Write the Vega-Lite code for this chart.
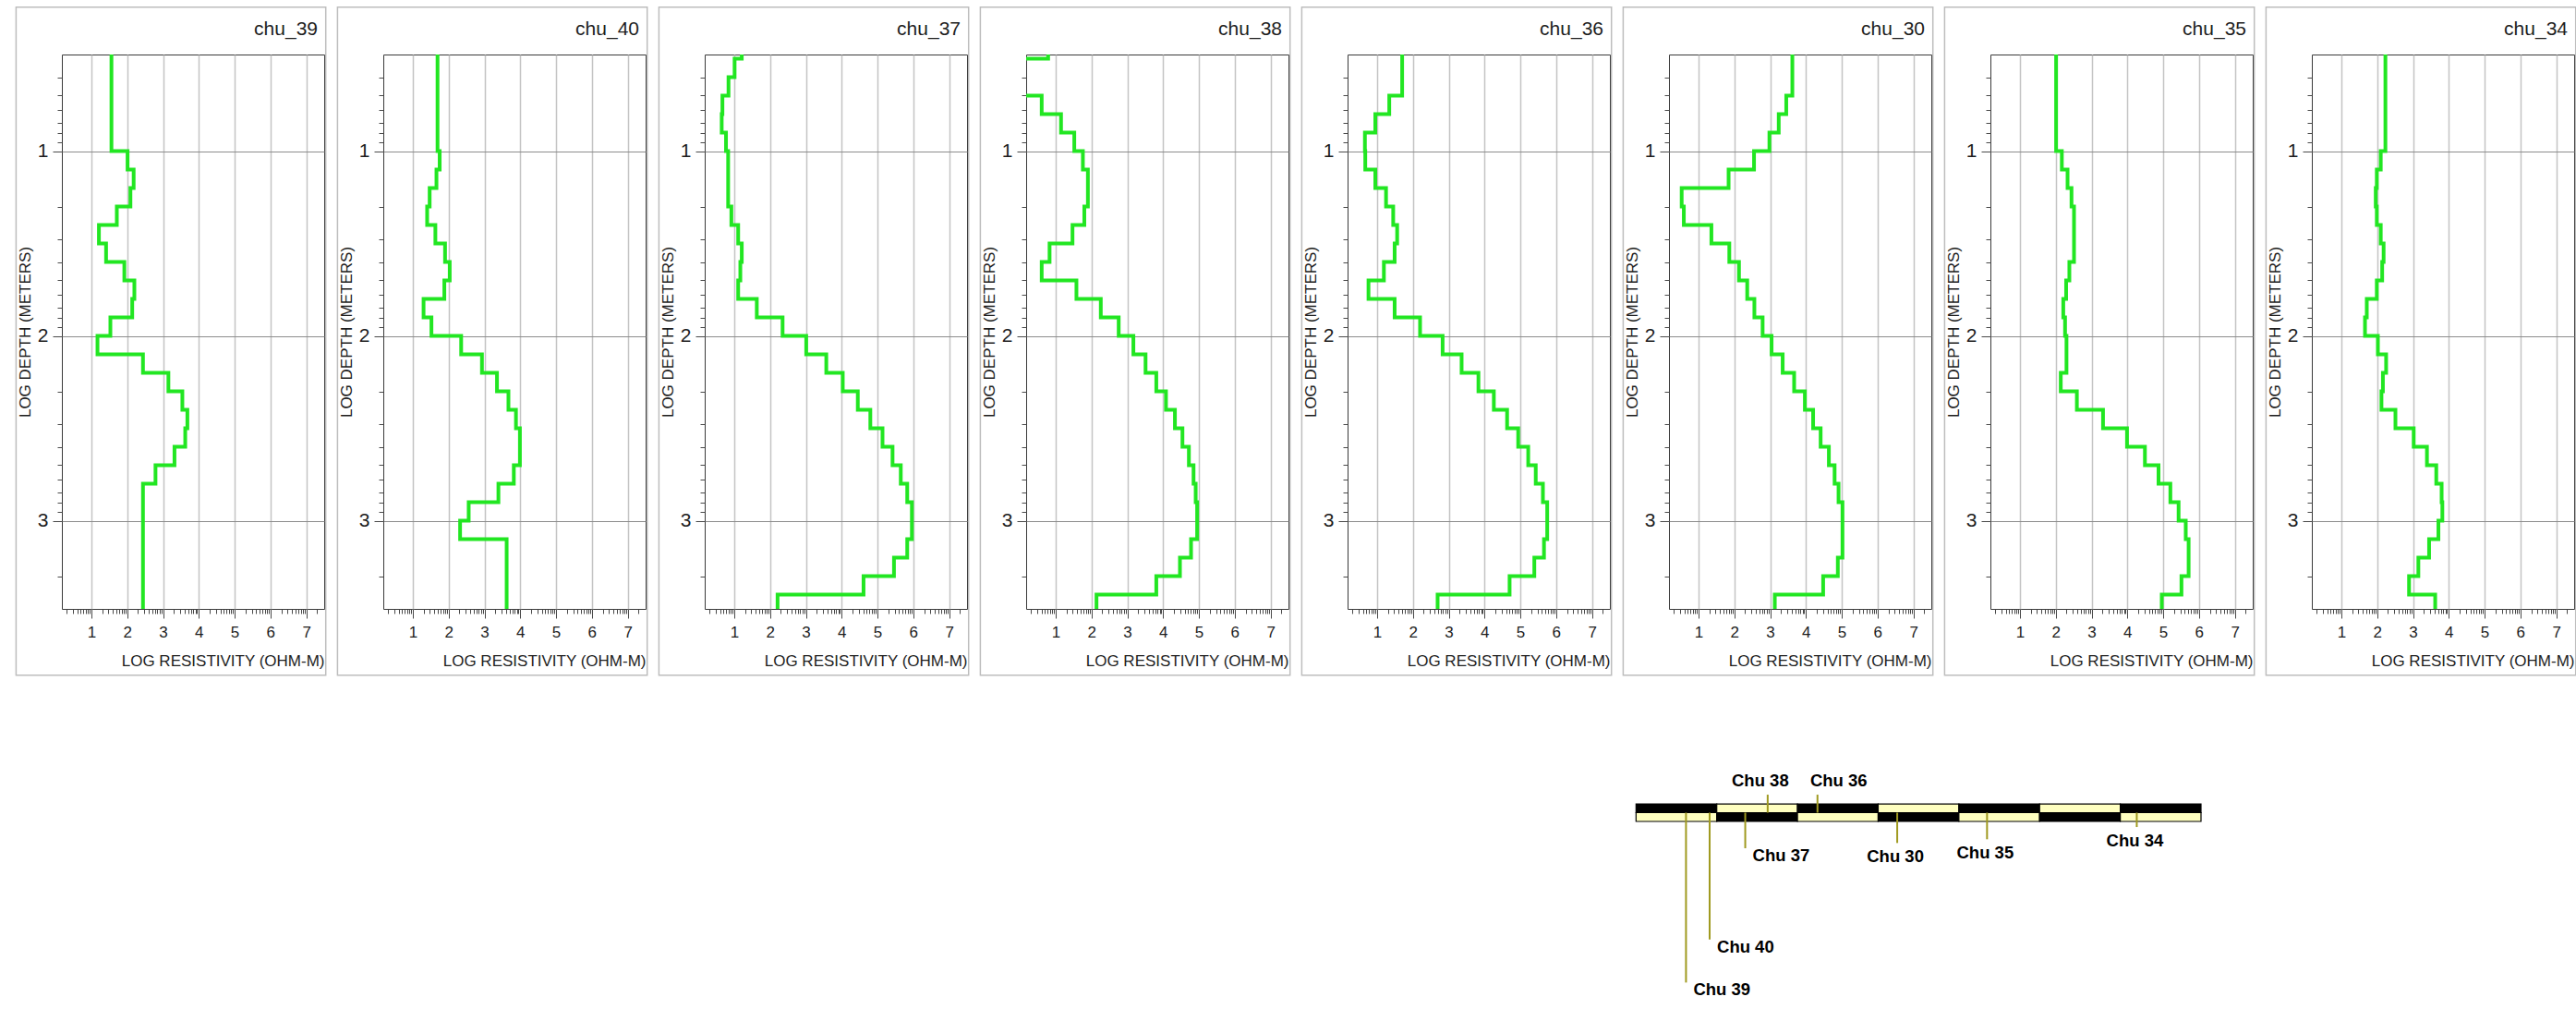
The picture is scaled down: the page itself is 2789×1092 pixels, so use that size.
{
  "$schema": "https://vega.github.io/schema/vega-lite/v6.json",
  "background": "white",
  "padding": {"left": 16, "top": 6, "right": 0, "bottom": 0},
  "datasets": {
    "soundings": [
      {"station":"chu_39","depth":0.477,"res":1.56},{"station":"chu_39","depth":1.0,"res":2.01},{"station":"chu_39","depth":1.1,"res":2.18},{"station":"chu_39","depth":1.2,"res":2.09},{"station":"chu_39","depth":1.3,"res":1.71},{"station":"chu_39","depth":1.4,"res":1.21},{"station":"chu_39","depth":1.5,"res":1.41},{"station":"chu_39","depth":1.6,"res":1.92},{"station":"chu_39","depth":1.7,"res":2.20},{"station":"chu_39","depth":1.8,"res":2.14},{"station":"chu_39","depth":1.9,"res":1.53},{"station":"chu_39","depth":2.0,"res":1.17},{"station":"chu_39","depth":2.1,"res":2.44},{"station":"chu_39","depth":2.2,"res":3.15},{"station":"chu_39","depth":2.3,"res":3.54},{"station":"chu_39","depth":2.4,"res":3.68},{"station":"chu_39","depth":2.5,"res":3.62},{"station":"chu_39","depth":2.6,"res":3.32},{"station":"chu_39","depth":2.7,"res":2.79},{"station":"chu_39","depth":2.8,"res":2.44},{"station":"chu_39","depth":3.477,"res":2.44},

      {"station":"chu_40","depth":0.477,"res":1.69},{"station":"chu_40","depth":1.0,"res":1.75},{"station":"chu_40","depth":1.1,"res":1.66},{"station":"chu_40","depth":1.2,"res":1.47},{"station":"chu_40","depth":1.3,"res":1.40},{"station":"chu_40","depth":1.4,"res":1.63},{"station":"chu_40","depth":1.5,"res":1.90},{"station":"chu_40","depth":1.6,"res":2.03},{"station":"chu_40","depth":1.7,"res":1.88},{"station":"chu_40","depth":1.8,"res":1.30},{"station":"chu_40","depth":1.9,"res":1.52},{"station":"chu_40","depth":2.0,"res":2.35},{"station":"chu_40","depth":2.1,"res":2.93},{"station":"chu_40","depth":2.2,"res":3.35},{"station":"chu_40","depth":2.3,"res":3.67},{"station":"chu_40","depth":2.4,"res":3.88},{"station":"chu_40","depth":2.5,"res":3.99},{"station":"chu_40","depth":2.7,"res":3.82},{"station":"chu_40","depth":2.8,"res":3.39},{"station":"chu_40","depth":2.9,"res":2.56},{"station":"chu_40","depth":3.0,"res":2.32},{"station":"chu_40","depth":3.1,"res":3.62},{"station":"chu_40","depth":3.477,"res":3.62},

      {"station":"chu_37","depth":0.477,"res":1.21},{"station":"chu_37","depth":0.5,"res":1.01},{"station":"chu_37","depth":0.6,"res":0.84},{"station":"chu_37","depth":0.7,"res":0.67},{"station":"chu_37","depth":0.8,"res":0.65},{"station":"chu_37","depth":0.9,"res":0.77},{"station":"chu_37","depth":1.0,"res":0.83},{"station":"chu_37","depth":1.3,"res":0.92},{"station":"chu_37","depth":1.4,"res":1.11},{"station":"chu_37","depth":1.5,"res":1.21},{"station":"chu_37","depth":1.6,"res":1.17},{"station":"chu_37","depth":1.7,"res":1.11},{"station":"chu_37","depth":1.8,"res":1.63},{"station":"chu_37","depth":1.9,"res":2.35},{"station":"chu_37","depth":2.0,"res":3.01},{"station":"chu_37","depth":2.1,"res":3.57},{"station":"chu_37","depth":2.2,"res":4.03},{"station":"chu_37","depth":2.3,"res":4.45},{"station":"chu_37","depth":2.4,"res":4.80},{"station":"chu_37","depth":2.5,"res":5.14},{"station":"chu_37","depth":2.6,"res":5.42},{"station":"chu_37","depth":2.7,"res":5.65},{"station":"chu_37","depth":2.8,"res":5.83},{"station":"chu_37","depth":2.9,"res":5.96},{"station":"chu_37","depth":3.1,"res":5.83},{"station":"chu_37","depth":3.2,"res":5.46},{"station":"chu_37","depth":3.3,"res":4.61},{"station":"chu_37","depth":3.4,"res":2.21},{"station":"chu_37","depth":3.477,"res":2.21},

      {"station":"chu_38","depth":0.477,"res":0.79},{"station":"chu_38","depth":0.5,"res":0.1},{"station":"chu_38","depth":0.7,"res":0.61},{"station":"chu_38","depth":0.8,"res":1.15},{"station":"chu_38","depth":0.9,"res":1.52},{"station":"chu_38","depth":1.0,"res":1.76},{"station":"chu_38","depth":1.1,"res":1.90},{"station":"chu_38","depth":1.3,"res":1.80},{"station":"chu_38","depth":1.4,"res":1.47},{"station":"chu_38","depth":1.5,"res":0.83},{"station":"chu_38","depth":1.6,"res":0.61},{"station":"chu_38","depth":1.7,"res":1.58},{"station":"chu_38","depth":1.8,"res":2.26},{"station":"chu_38","depth":1.9,"res":2.76},{"station":"chu_38","depth":2.0,"res":3.17},{"station":"chu_38","depth":2.1,"res":3.51},{"station":"chu_38","depth":2.2,"res":3.81},{"station":"chu_38","depth":2.3,"res":4.08},{"station":"chu_38","depth":2.4,"res":4.33},{"station":"chu_38","depth":2.5,"res":4.54},{"station":"chu_38","depth":2.6,"res":4.72},{"station":"chu_38","depth":2.7,"res":4.85},{"station":"chu_38","depth":2.8,"res":4.91},{"station":"chu_38","depth":2.9,"res":4.95},{"station":"chu_38","depth":3.1,"res":4.78},{"station":"chu_38","depth":3.2,"res":4.47},{"station":"chu_38","depth":3.3,"res":3.81},{"station":"chu_38","depth":3.4,"res":2.14},{"station":"chu_38","depth":3.477,"res":2.14},

      {"station":"chu_36","depth":0.477,"res":1.70},{"station":"chu_36","depth":0.7,"res":1.34},{"station":"chu_36","depth":0.8,"res":0.95},{"station":"chu_36","depth":0.9,"res":0.66},{"station":"chu_36","depth":1.0,"res":0.67},{"station":"chu_36","depth":1.1,"res":0.95},{"station":"chu_36","depth":1.2,"res":1.25},{"station":"chu_36","depth":1.3,"res":1.45},{"station":"chu_36","depth":1.4,"res":1.56},{"station":"chu_36","depth":1.5,"res":1.49},{"station":"chu_36","depth":1.6,"res":1.19},{"station":"chu_36","depth":1.7,"res":0.76},{"station":"chu_36","depth":1.8,"res":1.49},{"station":"chu_36","depth":1.9,"res":2.20},{"station":"chu_36","depth":2.0,"res":2.83},{"station":"chu_36","depth":2.1,"res":3.36},{"station":"chu_36","depth":2.2,"res":3.83},{"station":"chu_36","depth":2.3,"res":4.26},{"station":"chu_36","depth":2.4,"res":4.63},{"station":"chu_36","depth":2.5,"res":4.94},{"station":"chu_36","depth":2.6,"res":5.22},{"station":"chu_36","depth":2.7,"res":5.43},{"station":"chu_36","depth":2.8,"res":5.63},{"station":"chu_36","depth":2.9,"res":5.75},{"station":"chu_36","depth":3.1,"res":5.66},{"station":"chu_36","depth":3.2,"res":5.39},{"station":"chu_36","depth":3.3,"res":4.70},{"station":"chu_36","depth":3.4,"res":2.69},{"station":"chu_36","depth":3.477,"res":2.69},

      {"station":"chu_30","depth":0.477,"res":3.62},{"station":"chu_30","depth":0.7,"res":3.45},{"station":"chu_30","depth":0.8,"res":3.24},{"station":"chu_30","depth":0.9,"res":2.98},{"station":"chu_30","depth":1.0,"res":2.55},{"station":"chu_30","depth":1.1,"res":1.84},{"station":"chu_30","depth":1.2,"res":0.53},{"station":"chu_30","depth":1.3,"res":0.59},{"station":"chu_30","depth":1.4,"res":1.36},{"station":"chu_30","depth":1.5,"res":1.86},{"station":"chu_30","depth":1.6,"res":2.13},{"station":"chu_30","depth":1.7,"res":2.36},{"station":"chu_30","depth":1.8,"res":2.56},{"station":"chu_30","depth":1.9,"res":2.79},{"station":"chu_30","depth":2.0,"res":3.04},{"station":"chu_30","depth":2.1,"res":3.35},{"station":"chu_30","depth":2.2,"res":3.67},{"station":"chu_30","depth":2.3,"res":3.97},{"station":"chu_30","depth":2.4,"res":4.20},{"station":"chu_30","depth":2.5,"res":4.41},{"station":"chu_30","depth":2.6,"res":4.64},{"station":"chu_30","depth":2.7,"res":4.80},{"station":"chu_30","depth":2.8,"res":4.91},{"station":"chu_30","depth":2.9,"res":5.02},{"station":"chu_30","depth":3.2,"res":4.89},{"station":"chu_30","depth":3.3,"res":4.48},{"station":"chu_30","depth":3.4,"res":3.13},{"station":"chu_30","depth":3.477,"res":3.13},

      {"station":"chu_35","depth":0.477,"res":2.01},{"station":"chu_35","depth":1.0,"res":2.17},{"station":"chu_35","depth":1.1,"res":2.33},{"station":"chu_35","depth":1.2,"res":2.44},{"station":"chu_35","depth":1.3,"res":2.51},{"station":"chu_35","depth":1.6,"res":2.38},{"station":"chu_35","depth":1.7,"res":2.29},{"station":"chu_35","depth":1.8,"res":2.21},{"station":"chu_35","depth":1.9,"res":2.26},{"station":"chu_35","depth":2.0,"res":2.30},{"station":"chu_35","depth":2.2,"res":2.14},{"station":"chu_35","depth":2.3,"res":2.59},{"station":"chu_35","depth":2.4,"res":3.32},{"station":"chu_35","depth":2.5,"res":3.99},{"station":"chu_35","depth":2.6,"res":4.49},{"station":"chu_35","depth":2.7,"res":4.87},{"station":"chu_35","depth":2.8,"res":5.20},{"station":"chu_35","depth":2.9,"res":5.43},{"station":"chu_35","depth":3.0,"res":5.63},{"station":"chu_35","depth":3.1,"res":5.71},{"station":"chu_35","depth":3.3,"res":5.51},{"station":"chu_35","depth":3.4,"res":4.96},{"station":"chu_35","depth":3.477,"res":4.96},

      {"station":"chu_34","depth":0.477,"res":2.23},{"station":"chu_34","depth":1.0,"res":2.10},{"station":"chu_34","depth":1.1,"res":1.99},{"station":"chu_34","depth":1.2,"res":1.96},{"station":"chu_34","depth":1.3,"res":1.99},{"station":"chu_34","depth":1.4,"res":2.10},{"station":"chu_34","depth":1.5,"res":2.18},{"station":"chu_34","depth":1.6,"res":2.14},{"station":"chu_34","depth":1.7,"res":1.99},{"station":"chu_34","depth":1.8,"res":1.71},{"station":"chu_34","depth":1.9,"res":1.66},{"station":"chu_34","depth":2.0,"res":2.02},{"station":"chu_34","depth":2.1,"res":2.25},{"station":"chu_34","depth":2.2,"res":2.16},{"station":"chu_34","depth":2.3,"res":2.12},{"station":"chu_34","depth":2.4,"res":2.51},{"station":"chu_34","depth":2.5,"res":3.02},{"station":"chu_34","depth":2.6,"res":3.39},{"station":"chu_34","depth":2.7,"res":3.65},{"station":"chu_34","depth":2.8,"res":3.80},{"station":"chu_34","depth":2.9,"res":3.82},{"station":"chu_34","depth":3.0,"res":3.71},{"station":"chu_34","depth":3.1,"res":3.45},{"station":"chu_34","depth":3.2,"res":3.15},{"station":"chu_34","depth":3.3,"res":2.89},{"station":"chu_34","depth":3.4,"res":3.62},{"station":"chu_34","depth":3.477,"res":3.62}
    ],
    "segments": [
      {"seg":0,"start":0,"end":1},{"seg":1,"start":1,"end":2},{"seg":2,"start":2,"end":3},{"seg":3,"start":3,"end":4},{"seg":4,"start":4,"end":5},{"seg":5,"start":5,"end":6},{"seg":6,"start":6,"end":7}
    ],
    "stations": [
      {"name":"Chu 39","dist":0.619,"offset":2.095},
      {"name":"Chu 40","dist":0.912,"offset":1.564},
      {"name":"Chu 37","dist":1.353,"offset":0.439},
      {"name":"Chu 38","dist":1.631,"offset":-0.222},
      {"name":"Chu 36","dist":2.248,"offset":-0.222},
      {"name":"Chu 30","dist":3.236,"offset":0.374},
      {"name":"Chu 35","dist":4.349,"offset":0.328},
      {"name":"Chu 34","dist":6.204,"offset":0.177}
    ]
  },
  "config": {
    "font": "Liberation Sans",
    "view": {"stroke": "#3a3a3a", "strokeWidth": 1},
    "axis": {"labelColor": "#1e1e1e", "titleColor": "#1e1e1e", "tickColor": "#4a4a4a", "labelFont": "Liberation Sans", "titleFont": "Liberation Sans", "titleFontWeight": "normal"},
    "title": {"font": "Liberation Sans", "fontSize": 21, "fontWeight": "normal", "color": "#1e1e1e", "anchor": "end", "frame": "group", "offset": -35, "dx": -7}
  },
  "spacing": 104,
  "vconcat": [
    {
      "spacing": 10,
      "hconcat": [
        {"width":284,"height":600,"title":{"text":"chu_39"},"resolve":{"axis":{"x":"independent","y":"independent"}},"layer":[
          {"data":{"values":[{}]},"mark":{"type":"rect","filled":false,"stroke":"#bdbdbd","strokeWidth":1.5},"encoding":{
            "x":{"datum":-1.103,"type":"quantitative","scale":{"domain":[0.176,7.5],"nice":false,"zero":false},"axis":{"orient":"bottom","values":[0.301,0.477,0.602,0.699,0.778,0.845,0.903,0.954,1.301,1.477,1.602,1.699,1.778,1.845,1.903,1.954,2.301,2.477,2.602,2.699,2.778,2.845,2.903,2.954,3.301,3.477,3.602,3.699,3.778,3.845,3.903,3.954,4.301,4.477,4.602,4.699,4.778,4.845,4.903,4.954,5.301,5.477,5.602,5.699,5.778,5.845,5.903,5.954,6.301,6.477,6.602,6.699,6.778,6.845,6.903,6.954,7.301],"labels":false,"grid":false,"domain":false,"tickSize":5,"title":null}},
            "x2":{"datum":7.544},
            "y":{"datum":0.2205,"type":"quantitative","scale":{"domain":[0.477,3.477],"nice":false,"zero":false,"reverse":true},"axis":{"orient":"left","values":[0.602,0.699,0.778,0.845,0.903,0.954,1.301,1.477,1.602,1.699,1.778,1.845,1.903,1.954,2.301,2.477,2.602,2.699,2.778,2.845,2.903,2.954,3.301],"labels":false,"grid":false,"domain":false,"tickSize":5,"title":null}},
            "y2":{"datum":3.8355}}},
          {"data":{"name":"soundings"},"transform":[{"filter":"datum.station === 'chu_39'"}],"mark":{"type":"line","interpolate":"step-before","clip":true,"color":"#22e622","strokeWidth":4},"encoding":{
            "x":{"field":"res","type":"quantitative","scale":{"domain":[0.176,7.5],"nice":false,"zero":false},"axis":{"orient":"bottom","values":[1,2,3,4,5,6,7],"format":"d","grid":true,"gridColor":"#c4c4c4","gridWidth":1.5,"domain":false,"tickSize":10,"labelFontSize":17,"labelPadding":7,"title":"LOG RESISTIVITY (OHM-M)","titleAnchor":"end","titleFontSize":17,"titlePadding":15}},
            "y":{"field":"depth","type":"quantitative","scale":{"domain":[0.477,3.477],"nice":false,"zero":false,"reverse":true},"axis":{"orient":"left","values":[1,2,3],"format":"d","grid":true,"gridColor":"#8c8c8c","gridWidth":1,"domain":false,"tickSize":10,"labelFontSize":21,"labelPadding":5,"title":"LOG DEPTH (METERS)","titleFontSize":17,"titlePadding":4}},
            "order":{"field":"depth","type":"quantitative"}}}
        ]},
        {"width":284,"height":600,"title":{"text":"chu_40"},"resolve":{"axis":{"x":"independent","y":"independent"}},"layer":[
          {"data":{"values":[{}]},"mark":{"type":"rect","filled":false,"stroke":"#bdbdbd","strokeWidth":1.5},"encoding":{
            "x":{"datum":-1.103,"type":"quantitative","scale":{"domain":[0.176,7.5],"nice":false,"zero":false},"axis":{"orient":"bottom","values":[0.301,0.477,0.602,0.699,0.778,0.845,0.903,0.954,1.301,1.477,1.602,1.699,1.778,1.845,1.903,1.954,2.301,2.477,2.602,2.699,2.778,2.845,2.903,2.954,3.301,3.477,3.602,3.699,3.778,3.845,3.903,3.954,4.301,4.477,4.602,4.699,4.778,4.845,4.903,4.954,5.301,5.477,5.602,5.699,5.778,5.845,5.903,5.954,6.301,6.477,6.602,6.699,6.778,6.845,6.903,6.954,7.301],"labels":false,"grid":false,"domain":false,"tickSize":5,"title":null}},
            "x2":{"datum":7.544},
            "y":{"datum":0.2205,"type":"quantitative","scale":{"domain":[0.477,3.477],"nice":false,"zero":false,"reverse":true},"axis":{"orient":"left","values":[0.602,0.699,0.778,0.845,0.903,0.954,1.301,1.477,1.602,1.699,1.778,1.845,1.903,1.954,2.301,2.477,2.602,2.699,2.778,2.845,2.903,2.954,3.301],"labels":false,"grid":false,"domain":false,"tickSize":5,"title":null}},
            "y2":{"datum":3.8355}}},
          {"data":{"name":"soundings"},"transform":[{"filter":"datum.station === 'chu_40'"}],"mark":{"type":"line","interpolate":"step-before","clip":true,"color":"#22e622","strokeWidth":4},"encoding":{
            "x":{"field":"res","type":"quantitative","scale":{"domain":[0.176,7.5],"nice":false,"zero":false},"axis":{"orient":"bottom","values":[1,2,3,4,5,6,7],"format":"d","grid":true,"gridColor":"#c4c4c4","gridWidth":1.5,"domain":false,"tickSize":10,"labelFontSize":17,"labelPadding":7,"title":"LOG RESISTIVITY (OHM-M)","titleAnchor":"end","titleFontSize":17,"titlePadding":15}},
            "y":{"field":"depth","type":"quantitative","scale":{"domain":[0.477,3.477],"nice":false,"zero":false,"reverse":true},"axis":{"orient":"left","values":[1,2,3],"format":"d","grid":true,"gridColor":"#8c8c8c","gridWidth":1,"domain":false,"tickSize":10,"labelFontSize":21,"labelPadding":5,"title":"LOG DEPTH (METERS)","titleFontSize":17,"titlePadding":4}},
            "order":{"field":"depth","type":"quantitative"}}}
        ]},
        {"width":284,"height":600,"title":{"text":"chu_37"},"resolve":{"axis":{"x":"independent","y":"independent"}},"layer":[
          {"data":{"values":[{}]},"mark":{"type":"rect","filled":false,"stroke":"#bdbdbd","strokeWidth":1.5},"encoding":{
            "x":{"datum":-1.103,"type":"quantitative","scale":{"domain":[0.176,7.5],"nice":false,"zero":false},"axis":{"orient":"bottom","values":[0.301,0.477,0.602,0.699,0.778,0.845,0.903,0.954,1.301,1.477,1.602,1.699,1.778,1.845,1.903,1.954,2.301,2.477,2.602,2.699,2.778,2.845,2.903,2.954,3.301,3.477,3.602,3.699,3.778,3.845,3.903,3.954,4.301,4.477,4.602,4.699,4.778,4.845,4.903,4.954,5.301,5.477,5.602,5.699,5.778,5.845,5.903,5.954,6.301,6.477,6.602,6.699,6.778,6.845,6.903,6.954,7.301],"labels":false,"grid":false,"domain":false,"tickSize":5,"title":null}},
            "x2":{"datum":7.544},
            "y":{"datum":0.2205,"type":"quantitative","scale":{"domain":[0.477,3.477],"nice":false,"zero":false,"reverse":true},"axis":{"orient":"left","values":[0.602,0.699,0.778,0.845,0.903,0.954,1.301,1.477,1.602,1.699,1.778,1.845,1.903,1.954,2.301,2.477,2.602,2.699,2.778,2.845,2.903,2.954,3.301],"labels":false,"grid":false,"domain":false,"tickSize":5,"title":null}},
            "y2":{"datum":3.8355}}},
          {"data":{"name":"soundings"},"transform":[{"filter":"datum.station === 'chu_37'"}],"mark":{"type":"line","interpolate":"step-before","clip":true,"color":"#22e622","strokeWidth":4},"encoding":{
            "x":{"field":"res","type":"quantitative","scale":{"domain":[0.176,7.5],"nice":false,"zero":false},"axis":{"orient":"bottom","values":[1,2,3,4,5,6,7],"format":"d","grid":true,"gridColor":"#c4c4c4","gridWidth":1.5,"domain":false,"tickSize":10,"labelFontSize":17,"labelPadding":7,"title":"LOG RESISTIVITY (OHM-M)","titleAnchor":"end","titleFontSize":17,"titlePadding":15}},
            "y":{"field":"depth","type":"quantitative","scale":{"domain":[0.477,3.477],"nice":false,"zero":false,"reverse":true},"axis":{"orient":"left","values":[1,2,3],"format":"d","grid":true,"gridColor":"#8c8c8c","gridWidth":1,"domain":false,"tickSize":10,"labelFontSize":21,"labelPadding":5,"title":"LOG DEPTH (METERS)","titleFontSize":17,"titlePadding":4}},
            "order":{"field":"depth","type":"quantitative"}}}
        ]},
        {"width":284,"height":600,"title":{"text":"chu_38"},"resolve":{"axis":{"x":"independent","y":"independent"}},"layer":[
          {"data":{"values":[{}]},"mark":{"type":"rect","filled":false,"stroke":"#bdbdbd","strokeWidth":1.5},"encoding":{
            "x":{"datum":-1.103,"type":"quantitative","scale":{"domain":[0.176,7.5],"nice":false,"zero":false},"axis":{"orient":"bottom","values":[0.301,0.477,0.602,0.699,0.778,0.845,0.903,0.954,1.301,1.477,1.602,1.699,1.778,1.845,1.903,1.954,2.301,2.477,2.602,2.699,2.778,2.845,2.903,2.954,3.301,3.477,3.602,3.699,3.778,3.845,3.903,3.954,4.301,4.477,4.602,4.699,4.778,4.845,4.903,4.954,5.301,5.477,5.602,5.699,5.778,5.845,5.903,5.954,6.301,6.477,6.602,6.699,6.778,6.845,6.903,6.954,7.301],"labels":false,"grid":false,"domain":false,"tickSize":5,"title":null}},
            "x2":{"datum":7.544},
            "y":{"datum":0.2205,"type":"quantitative","scale":{"domain":[0.477,3.477],"nice":false,"zero":false,"reverse":true},"axis":{"orient":"left","values":[0.602,0.699,0.778,0.845,0.903,0.954,1.301,1.477,1.602,1.699,1.778,1.845,1.903,1.954,2.301,2.477,2.602,2.699,2.778,2.845,2.903,2.954,3.301],"labels":false,"grid":false,"domain":false,"tickSize":5,"title":null}},
            "y2":{"datum":3.8355}}},
          {"data":{"name":"soundings"},"transform":[{"filter":"datum.station === 'chu_38'"}],"mark":{"type":"line","interpolate":"step-before","clip":true,"color":"#22e622","strokeWidth":4},"encoding":{
            "x":{"field":"res","type":"quantitative","scale":{"domain":[0.176,7.5],"nice":false,"zero":false},"axis":{"orient":"bottom","values":[1,2,3,4,5,6,7],"format":"d","grid":true,"gridColor":"#c4c4c4","gridWidth":1.5,"domain":false,"tickSize":10,"labelFontSize":17,"labelPadding":7,"title":"LOG RESISTIVITY (OHM-M)","titleAnchor":"end","titleFontSize":17,"titlePadding":15}},
            "y":{"field":"depth","type":"quantitative","scale":{"domain":[0.477,3.477],"nice":false,"zero":false,"reverse":true},"axis":{"orient":"left","values":[1,2,3],"format":"d","grid":true,"gridColor":"#8c8c8c","gridWidth":1,"domain":false,"tickSize":10,"labelFontSize":21,"labelPadding":5,"title":"LOG DEPTH (METERS)","titleFontSize":17,"titlePadding":4}},
            "order":{"field":"depth","type":"quantitative"}}}
        ]},
        {"width":284,"height":600,"title":{"text":"chu_36"},"resolve":{"axis":{"x":"independent","y":"independent"}},"layer":[
          {"data":{"values":[{}]},"mark":{"type":"rect","filled":false,"stroke":"#bdbdbd","strokeWidth":1.5},"encoding":{
            "x":{"datum":-1.103,"type":"quantitative","scale":{"domain":[0.176,7.5],"nice":false,"zero":false},"axis":{"orient":"bottom","values":[0.301,0.477,0.602,0.699,0.778,0.845,0.903,0.954,1.301,1.477,1.602,1.699,1.778,1.845,1.903,1.954,2.301,2.477,2.602,2.699,2.778,2.845,2.903,2.954,3.301,3.477,3.602,3.699,3.778,3.845,3.903,3.954,4.301,4.477,4.602,4.699,4.778,4.845,4.903,4.954,5.301,5.477,5.602,5.699,5.778,5.845,5.903,5.954,6.301,6.477,6.602,6.699,6.778,6.845,6.903,6.954,7.301],"labels":false,"grid":false,"domain":false,"tickSize":5,"title":null}},
            "x2":{"datum":7.544},
            "y":{"datum":0.2205,"type":"quantitative","scale":{"domain":[0.477,3.477],"nice":false,"zero":false,"reverse":true},"axis":{"orient":"left","values":[0.602,0.699,0.778,0.845,0.903,0.954,1.301,1.477,1.602,1.699,1.778,1.845,1.903,1.954,2.301,2.477,2.602,2.699,2.778,2.845,2.903,2.954,3.301],"labels":false,"grid":false,"domain":false,"tickSize":5,"title":null}},
            "y2":{"datum":3.8355}}},
          {"data":{"name":"soundings"},"transform":[{"filter":"datum.station === 'chu_36'"}],"mark":{"type":"line","interpolate":"step-before","clip":true,"color":"#22e622","strokeWidth":4},"encoding":{
            "x":{"field":"res","type":"quantitative","scale":{"domain":[0.176,7.5],"nice":false,"zero":false},"axis":{"orient":"bottom","values":[1,2,3,4,5,6,7],"format":"d","grid":true,"gridColor":"#c4c4c4","gridWidth":1.5,"domain":false,"tickSize":10,"labelFontSize":17,"labelPadding":7,"title":"LOG RESISTIVITY (OHM-M)","titleAnchor":"end","titleFontSize":17,"titlePadding":15}},
            "y":{"field":"depth","type":"quantitative","scale":{"domain":[0.477,3.477],"nice":false,"zero":false,"reverse":true},"axis":{"orient":"left","values":[1,2,3],"format":"d","grid":true,"gridColor":"#8c8c8c","gridWidth":1,"domain":false,"tickSize":10,"labelFontSize":21,"labelPadding":5,"title":"LOG DEPTH (METERS)","titleFontSize":17,"titlePadding":4}},
            "order":{"field":"depth","type":"quantitative"}}}
        ]},
        {"width":284,"height":600,"title":{"text":"chu_30"},"resolve":{"axis":{"x":"independent","y":"independent"}},"layer":[
          {"data":{"values":[{}]},"mark":{"type":"rect","filled":false,"stroke":"#bdbdbd","strokeWidth":1.5},"encoding":{
            "x":{"datum":-1.103,"type":"quantitative","scale":{"domain":[0.176,7.5],"nice":false,"zero":false},"axis":{"orient":"bottom","values":[0.301,0.477,0.602,0.699,0.778,0.845,0.903,0.954,1.301,1.477,1.602,1.699,1.778,1.845,1.903,1.954,2.301,2.477,2.602,2.699,2.778,2.845,2.903,2.954,3.301,3.477,3.602,3.699,3.778,3.845,3.903,3.954,4.301,4.477,4.602,4.699,4.778,4.845,4.903,4.954,5.301,5.477,5.602,5.699,5.778,5.845,5.903,5.954,6.301,6.477,6.602,6.699,6.778,6.845,6.903,6.954,7.301],"labels":false,"grid":false,"domain":false,"tickSize":5,"title":null}},
            "x2":{"datum":7.544},
            "y":{"datum":0.2205,"type":"quantitative","scale":{"domain":[0.477,3.477],"nice":false,"zero":false,"reverse":true},"axis":{"orient":"left","values":[0.602,0.699,0.778,0.845,0.903,0.954,1.301,1.477,1.602,1.699,1.778,1.845,1.903,1.954,2.301,2.477,2.602,2.699,2.778,2.845,2.903,2.954,3.301],"labels":false,"grid":false,"domain":false,"tickSize":5,"title":null}},
            "y2":{"datum":3.8355}}},
          {"data":{"name":"soundings"},"transform":[{"filter":"datum.station === 'chu_30'"}],"mark":{"type":"line","interpolate":"step-before","clip":true,"color":"#22e622","strokeWidth":4},"encoding":{
            "x":{"field":"res","type":"quantitative","scale":{"domain":[0.176,7.5],"nice":false,"zero":false},"axis":{"orient":"bottom","values":[1,2,3,4,5,6,7],"format":"d","grid":true,"gridColor":"#c4c4c4","gridWidth":1.5,"domain":false,"tickSize":10,"labelFontSize":17,"labelPadding":7,"title":"LOG RESISTIVITY (OHM-M)","titleAnchor":"end","titleFontSize":17,"titlePadding":15}},
            "y":{"field":"depth","type":"quantitative","scale":{"domain":[0.477,3.477],"nice":false,"zero":false,"reverse":true},"axis":{"orient":"left","values":[1,2,3],"format":"d","grid":true,"gridColor":"#8c8c8c","gridWidth":1,"domain":false,"tickSize":10,"labelFontSize":21,"labelPadding":5,"title":"LOG DEPTH (METERS)","titleFontSize":17,"titlePadding":4}},
            "order":{"field":"depth","type":"quantitative"}}}
        ]},
        {"width":284,"height":600,"title":{"text":"chu_35"},"resolve":{"axis":{"x":"independent","y":"independent"}},"layer":[
          {"data":{"values":[{}]},"mark":{"type":"rect","filled":false,"stroke":"#bdbdbd","strokeWidth":1.5},"encoding":{
            "x":{"datum":-1.103,"type":"quantitative","scale":{"domain":[0.176,7.5],"nice":false,"zero":false},"axis":{"orient":"bottom","values":[0.301,0.477,0.602,0.699,0.778,0.845,0.903,0.954,1.301,1.477,1.602,1.699,1.778,1.845,1.903,1.954,2.301,2.477,2.602,2.699,2.778,2.845,2.903,2.954,3.301,3.477,3.602,3.699,3.778,3.845,3.903,3.954,4.301,4.477,4.602,4.699,4.778,4.845,4.903,4.954,5.301,5.477,5.602,5.699,5.778,5.845,5.903,5.954,6.301,6.477,6.602,6.699,6.778,6.845,6.903,6.954,7.301],"labels":false,"grid":false,"domain":false,"tickSize":5,"title":null}},
            "x2":{"datum":7.544},
            "y":{"datum":0.2205,"type":"quantitative","scale":{"domain":[0.477,3.477],"nice":false,"zero":false,"reverse":true},"axis":{"orient":"left","values":[0.602,0.699,0.778,0.845,0.903,0.954,1.301,1.477,1.602,1.699,1.778,1.845,1.903,1.954,2.301,2.477,2.602,2.699,2.778,2.845,2.903,2.954,3.301],"labels":false,"grid":false,"domain":false,"tickSize":5,"title":null}},
            "y2":{"datum":3.8355}}},
          {"data":{"name":"soundings"},"transform":[{"filter":"datum.station === 'chu_35'"}],"mark":{"type":"line","interpolate":"step-before","clip":true,"color":"#22e622","strokeWidth":4},"encoding":{
            "x":{"field":"res","type":"quantitative","scale":{"domain":[0.176,7.5],"nice":false,"zero":false},"axis":{"orient":"bottom","values":[1,2,3,4,5,6,7],"format":"d","grid":true,"gridColor":"#c4c4c4","gridWidth":1.5,"domain":false,"tickSize":10,"labelFontSize":17,"labelPadding":7,"title":"LOG RESISTIVITY (OHM-M)","titleAnchor":"end","titleFontSize":17,"titlePadding":15}},
            "y":{"field":"depth","type":"quantitative","scale":{"domain":[0.477,3.477],"nice":false,"zero":false,"reverse":true},"axis":{"orient":"left","values":[1,2,3],"format":"d","grid":true,"gridColor":"#8c8c8c","gridWidth":1,"domain":false,"tickSize":10,"labelFontSize":21,"labelPadding":5,"title":"LOG DEPTH (METERS)","titleFontSize":17,"titlePadding":4}},
            "order":{"field":"depth","type":"quantitative"}}}
        ]},
        {"width":284,"height":600,"title":{"text":"chu_34"},"resolve":{"axis":{"x":"independent","y":"independent"}},"layer":[
          {"data":{"values":[{}]},"mark":{"type":"rect","filled":false,"stroke":"#bdbdbd","strokeWidth":1.5},"encoding":{
            "x":{"datum":-1.103,"type":"quantitative","scale":{"domain":[0.176,7.5],"nice":false,"zero":false},"axis":{"orient":"bottom","values":[0.301,0.477,0.602,0.699,0.778,0.845,0.903,0.954,1.301,1.477,1.602,1.699,1.778,1.845,1.903,1.954,2.301,2.477,2.602,2.699,2.778,2.845,2.903,2.954,3.301,3.477,3.602,3.699,3.778,3.845,3.903,3.954,4.301,4.477,4.602,4.699,4.778,4.845,4.903,4.954,5.301,5.477,5.602,5.699,5.778,5.845,5.903,5.954,6.301,6.477,6.602,6.699,6.778,6.845,6.903,6.954,7.301],"labels":false,"grid":false,"domain":false,"tickSize":5,"title":null}},
            "x2":{"datum":7.544},
            "y":{"datum":0.2205,"type":"quantitative","scale":{"domain":[0.477,3.477],"nice":false,"zero":false,"reverse":true},"axis":{"orient":"left","values":[0.602,0.699,0.778,0.845,0.903,0.954,1.301,1.477,1.602,1.699,1.778,1.845,1.903,1.954,2.301,2.477,2.602,2.699,2.778,2.845,2.903,2.954,3.301],"labels":false,"grid":false,"domain":false,"tickSize":5,"title":null}},
            "y2":{"datum":3.8355}}},
          {"data":{"name":"soundings"},"transform":[{"filter":"datum.station === 'chu_34'"}],"mark":{"type":"line","interpolate":"step-before","clip":true,"color":"#22e622","strokeWidth":4},"encoding":{
            "x":{"field":"res","type":"quantitative","scale":{"domain":[0.176,7.5],"nice":false,"zero":false},"axis":{"orient":"bottom","values":[1,2,3,4,5,6,7],"format":"d","grid":true,"gridColor":"#c4c4c4","gridWidth":1.5,"domain":false,"tickSize":10,"labelFontSize":17,"labelPadding":7,"title":"LOG RESISTIVITY (OHM-M)","titleAnchor":"end","titleFontSize":17,"titlePadding":15}},
            "y":{"field":"depth","type":"quantitative","scale":{"domain":[0.477,3.477],"nice":false,"zero":false,"reverse":true},"axis":{"orient":"left","values":[1,2,3],"format":"d","grid":true,"gridColor":"#8c8c8c","gridWidth":1,"domain":false,"tickSize":10,"labelFontSize":21,"labelPadding":5,"title":"LOG DEPTH (METERS)","titleFontSize":17,"titlePadding":4}},
            "order":{"field":"depth","type":"quantitative"}}}
        ]}
      ]
    },
    {
      "width": 2321,
      "height": 250,
      "view": {"stroke": null},
      "layer": [
        {"data":{"name":"segments"},"mark":{"type":"rect","stroke":"#000000","strokeWidth":1.2},"encoding":{
          "x":{"field":"start","type":"quantitative","scale":{"domain":[-19.447,7],"nice":false,"zero":false},"axis":null},
          "x2":{"field":"end"},
          "y":{"datum":-0.108,"type":"quantitative","scale":{"domain":[-0.496,2.353],"nice":false,"zero":false,"reverse":true},"axis":null},
          "y2":{"datum":0},
          "fill":{"condition":{"test":"datum.seg % 2 === 0","value":"#000000"},"value":"#ffffc0"}}},
        {"data":{"name":"segments"},"mark":{"type":"rect","stroke":"#000000","strokeWidth":1.2},"encoding":{
          "x":{"field":"start","type":"quantitative","scale":{"domain":[-19.447,7],"nice":false,"zero":false},"axis":null},
          "x2":{"field":"end"},
          "y":{"datum":0,"type":"quantitative","scale":{"domain":[-0.496,2.353],"nice":false,"zero":false,"reverse":true},"axis":null},
          "y2":{"datum":0.108},
          "fill":{"condition":{"test":"datum.seg % 2 === 0","value":"#ffffc0"},"value":"#000000"}}},
        {"data":{"name":"stations"},"mark":{"type":"bar","orient":"vertical","width":2,"color":"#a09a20"},"encoding":{
          "x":{"field":"dist","type":"quantitative","scale":{"domain":[-19.447,7],"nice":false,"zero":false},"axis":null},
          "y":{"field":"offset","type":"quantitative","stack":null,"scale":{"domain":[-0.496,2.353],"nice":false,"zero":false,"reverse":true},"axis":null}}},
        {"data":{"name":"stations"},"transform":[{"filter":{"field":"name","oneOf":["Chu 30","Chu 35","Chu 34"]}}],"mark":{"type":"text","align":"center","baseline":"middle","dx":-2,"dy":15,"font":"Liberation Sans","fontWeight":"bold","fontSize":18.5,"color":"#000000"},"encoding":{
          "x":{"field":"dist","type":"quantitative","scale":{"domain":[-19.447,7],"nice":false,"zero":false},"axis":null},
          "y":{"field":"offset","type":"quantitative","scale":{"domain":[-0.496,2.353],"nice":false,"zero":false,"reverse":true},"axis":null},
          "text":{"field":"name"}}},
        {"data":{"name":"stations"},"transform":[{"filter":{"field":"name","oneOf":["Chu 37","Chu 40","Chu 39"]}}],"mark":{"type":"text","align":"left","baseline":"middle","dx":8,"dy":8,"font":"Liberation Sans","fontWeight":"bold","fontSize":18.5,"color":"#000000"},"encoding":{
          "x":{"field":"dist","type":"quantitative","scale":{"domain":[-19.447,7],"nice":false,"zero":false},"axis":null},
          "y":{"field":"offset","type":"quantitative","scale":{"domain":[-0.496,2.353],"nice":false,"zero":false,"reverse":true},"axis":null},
          "text":{"field":"name"}}},
        {"data":{"name":"stations"},"transform":[{"filter":"datum.name === 'Chu 38'"}],"mark":{"type":"text","align":"center","baseline":"middle","dx":-8,"dy":-15,"font":"Liberation Sans","fontWeight":"bold","fontSize":18.5,"color":"#000000"},"encoding":{
          "x":{"field":"dist","type":"quantitative","scale":{"domain":[-19.447,7],"nice":false,"zero":false},"axis":null},
          "y":{"field":"offset","type":"quantitative","scale":{"domain":[-0.496,2.353],"nice":false,"zero":false,"reverse":true},"axis":null},
          "text":{"field":"name"}}},
        {"data":{"name":"stations"},"transform":[{"filter":"datum.name === 'Chu 36'"}],"mark":{"type":"text","align":"center","baseline":"middle","dx":23,"dy":-15,"font":"Liberation Sans","fontWeight":"bold","fontSize":18.5,"color":"#000000"},"encoding":{
          "x":{"field":"dist","type":"quantitative","scale":{"domain":[-19.447,7],"nice":false,"zero":false},"axis":null},
          "y":{"field":"offset","type":"quantitative","scale":{"domain":[-0.496,2.353],"nice":false,"zero":false,"reverse":true},"axis":null},
          "text":{"field":"name"}}}
      ]
    }
  ]
}
